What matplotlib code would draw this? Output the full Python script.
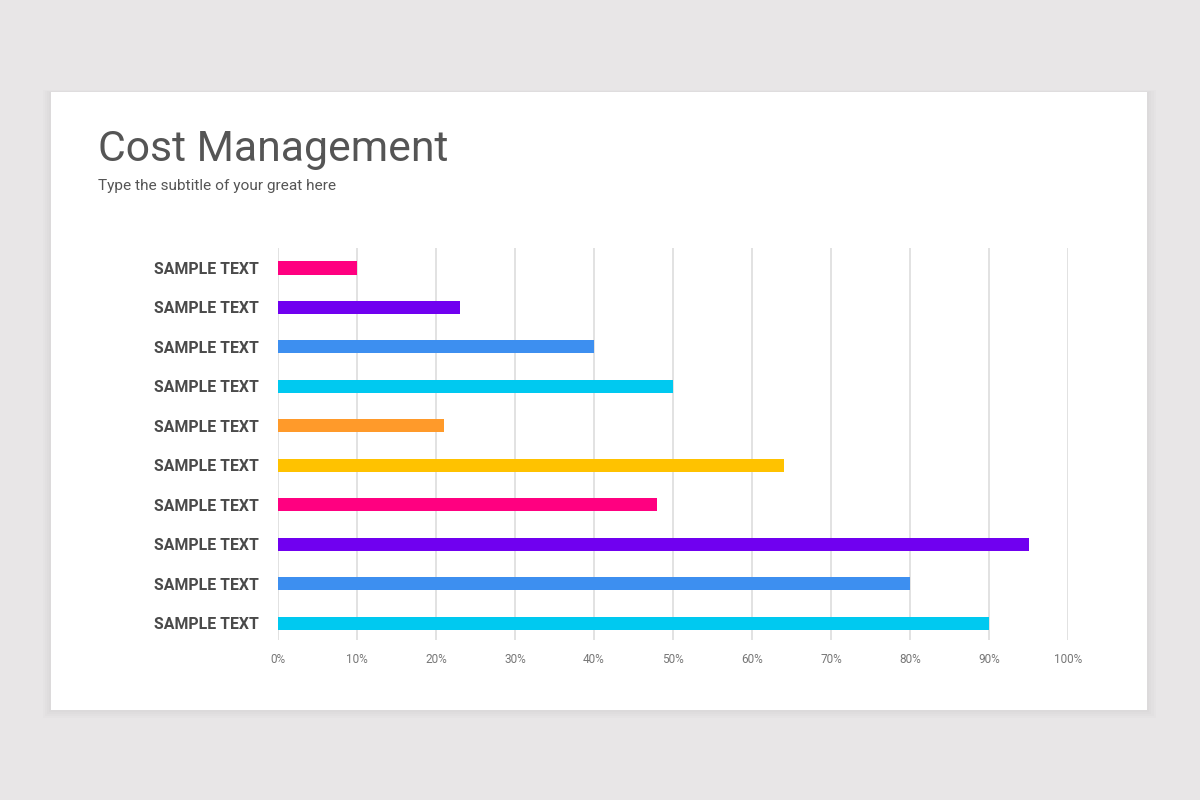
import matplotlib.pyplot as plt
from matplotlib.patches import Rectangle

plt.rcParams['font.family'] = ['Roboto', 'DejaVu Sans']

# data, top to bottom
labels = ['SAMPLE TEXT'] * 10
values = [10, 23, 40, 50, 21, 64, 48, 95, 80, 90]
colors = ['#ff0080', '#7000f0', '#3d8ff0', '#00c9f0', '#ff9a2a',
          '#ffc200', '#ff0080', '#7000f0', '#3d8ff0', '#00c9f0']
ticks = [0, 10, 20, 30, 40, 50, 60, 70, 80, 90, 100]
tick_labels = ['%d%%' % t for t in ticks]

fig = plt.figure(figsize=(12, 8), dpi=100, facecolor='#e8e6e7')

# soft shadow + white card (below the axes)
for i in range(4):
    d = 0.0025 * (i + 1)
    fig.patches.append(Rectangle((0.0425 - d * 0.7, 0.1125 - d), 0.9135 + 1.4 * d, 0.7725 + 1.2 * d,
                                 transform=fig.transFigure, facecolor='#000000',
                                 alpha=0.012, edgecolor='none', zorder=-3))
fig.patches.append(Rectangle((0.0425, 0.1125), 0.9135, 0.7725, transform=fig.transFigure,
                             facecolor='white', edgecolor='none', zorder=-2))

fig.text(0.0815, 0.799, 'Cost Management', fontsize=30.8, color='#555555',
         ha='left', va='baseline')
fig.text(0.0815, 0.7625, 'Type the subtitle of your great here', fontsize=11.1,
         color='#555555', ha='left', va='baseline')

ax = fig.add_axes([0.2317, 0.2, 0.6583, 0.49])
ax.set_facecolor('none')
pos = list(range(len(values)))
ax.barh(pos, values, height=0.33, color=colors, zorder=3)

ax.set_xlim(0, 100)
ax.set_ylim(9.43, -0.507)
ax.set_xticks(ticks)
ax.set_xticklabels(tick_labels)
ax.set_yticks(pos)
ax.set_yticklabels(labels)
ax.grid(axis='x', color='#dddddd', linewidth=1.2, zorder=0)
for s in ax.spines.values():
    s.set_visible(False)
ax.tick_params(axis='x', length=0, pad=9.5, labelsize=8.5, labelcolor='#777777')
ax.tick_params(axis='y', length=0, pad=14, labelsize=11.4, labelcolor='#4a4a4a')
for t in ax.get_yticklabels():
    t.set_fontweight('bold')

fig.savefig('out.png', dpi=100, facecolor=fig.get_facecolor())
